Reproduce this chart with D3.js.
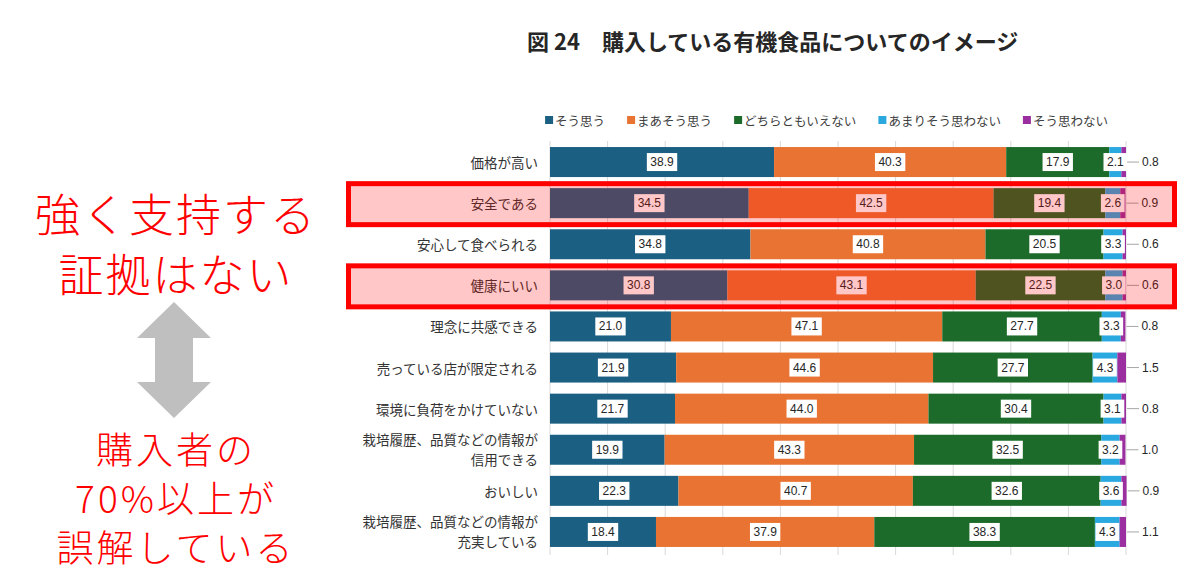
<!DOCTYPE html>
<html><head><meta charset="utf-8">
<script src="https://cdn.jsdelivr.net/npm/d3@7/dist/d3.min.js"></script>
<style>
html,body{margin:0;padding:0;background:#fff;}
svg{display:block;}
</style></head>
<body>
<svg id="chart" width="1200" height="583"></svg>
<script>
const title = "図 24　購入している有機食品についてのイメージ";
const categories = [
  "価格が高い",
  "安全である",
  "安心して食べられる",
  "健康にいい",
  "理念に共感できる",
  "売っている店が限定される",
  "環境に負荷をかけていない",
  "栽培履歴、品質などの情報が\n信用できる",
  "おいしい",
  "栽培履歴、品質などの情報が\n充実している"
];
const seriesNames = ["そう思う","まあそう思う","どちらともいえない","あまりそう思わない","そう思わない"];
const seriesColors = ["#1b5f82","#e97332","#1d6b2a","#2aa9e0","#9c2f9f"];
const soOmou      = [38.9,34.5,34.8,30.8,21.0,21.9,21.7,19.9,22.3,18.4];
const maaSoOmou   = [40.3,42.5,40.8,43.1,47.1,44.6,44.0,43.3,40.7,37.9];
const dochiramo   = [17.9,19.4,20.5,22.5,27.7,27.7,30.4,32.5,32.6,38.3];
const amariOmowanai = [2.1,2.6,3.3,3.0,3.3,4.3,3.1,3.2,3.6,4.3];
const soOmowanai  = [0.8,0.9,0.6,0.6,0.8,1.5,0.8,1.0,0.9,1.1];
const xTicks = [0,10,20,30,40,50,60,70,80,90,100];
const highlighted = ["安全である","健康にいい"];
const noteTop = ["強く支持する","証拠はない"];
const noteBottom = ["購入者の","70%以上が","誤解している"];

(function(){
const seriesValues = [soOmou, maaSoOmou, dochiramo, amariOmowanai, soOmowanai];
const rows = categories.map((c,i)=>{
  const vals = seriesValues.map(s=>s[i]);
  let acc = 0;
  const segs = vals.map((v,k)=>{const s={k,v,x0:acc,x1:acc+v}; acc+=v; return s;});
  return {cat:c, segs};
});

const svg = d3.select("#chart");
const JP = "'Noto Sans CJK JP','Noto Sans',sans-serif";
const NUM = "'Liberation Sans Narrow','Arial Narrow','Liberation Sans',sans-serif";

const x = d3.scaleLinear().domain([0,100]).range([550,1126]);
const y = d3.scaleBand().domain(categories).range([141.5,552.5]).paddingInner(0.27).paddingOuter(0.135);

// title
svg.append("text").attr("x",527).attr("y",40).attr("dominant-baseline","central")
  .attr("font-family",JP).attr("font-size",22).attr("font-weight","bold").attr("fill","#262626")
  .text(title);

// legend
const legend = svg.append("g").attr("font-family",JP).attr("font-size",12.5).attr("fill","#404040");
const items = seriesNames.map((n,i)=>{
  const g = legend.append("g");
  g.append("rect").attr("x",0).attr("y",-4).attr("width",8).attr("height",8).attr("fill",seriesColors[i]);
  const t = g.append("text").attr("x",10).attr("y",0).attr("dominant-baseline","central").text(n);
  return {g, w: 10 + t.node().getComputedTextLength()};
});
const gap = 22;
const totalW = d3.sum(items,d=>d.w) + gap*(items.length-1);
let lx = 826.5 - totalW/2;
items.forEach(it=>{ it.g.attr("transform",`translate(${lx},120)`); lx += it.w + gap; });

// gridlines
svg.append("g").selectAll("line").data(xTicks).join("line")
  .attr("x1",d=>x(d)).attr("x2",d=>x(d)).attr("y1",141).attr("y2",555)
  .attr("stroke","#d9d9d9").attr("stroke-width",1);

// bars
const rowG = svg.append("g").selectAll("g").data(rows).join("g")
  .attr("transform",d=>`translate(0,${y(d.cat)})`);
rowG.selectAll("rect").data(d=>d.segs).join("rect")
  .attr("x",d=>x(d.x0)).attr("width",d=>x(d.x1)-x(d.x0))
  .attr("y",0).attr("height",y.bandwidth())
  .attr("fill",d=>seriesColors[d.k]);

// value labels
const bh = y.bandwidth();
rowG.each(function(r){
  const g = d3.select(this);
  r.segs.forEach(s=>{
    if(s.k<4){
      const cx = x((s.x0+s.x1)/2);
      const lg = g.append("g");
      const t = lg.append("text").attr("x",cx).attr("y",bh/2).attr("text-anchor","middle")
        .attr("dominant-baseline","central").attr("font-family",NUM).attr("font-size",12)
        .attr("fill","#262626").text(s.v.toFixed(1));
      const w = t.node().getComputedTextLength()+7;
      lg.insert("rect","text").attr("x",cx-w/2).attr("y",bh/2-9).attr("width",w).attr("height",18).attr("fill","#fff");
    } else {
      const ex = x(s.x1);
      g.append("line").attr("x1",ex+1).attr("x2",ex+13).attr("y1",bh/2).attr("y2",bh/2)
        .attr("stroke","#a6a6a6").attr("stroke-width",1);
      g.append("text").attr("x",ex+16).attr("y",bh/2).attr("dominant-baseline","central")
        .attr("font-family",NUM).attr("font-size",12).attr("fill","#262626").text(s.v.toFixed(1));
    }
  });
});

// category labels
const catG = svg.append("g").attr("font-family",JP).attr("font-size",13.5).attr("fill","#333");
categories.forEach(c=>{
  const lines = c.split("\n");
  const cy = y(c)+bh/2;
  lines.forEach((ln,i)=>{
    catG.append("text").attr("x",538).attr("y",cy + (i-(lines.length-1)/2)*20 + (lines.length>1?-0.5:0))
      .attr("text-anchor","end").attr("dominant-baseline","central").text(ln);
  });
});

// highlight boxes
svg.append("g").selectAll("rect").data(highlighted).join("rect")
  .attr("x",348.5).attr("width",826).attr("y",d=>y(d)+bh/2-19.5).attr("height",41)
  .attr("fill","rgba(255,0,0,0.22)").attr("stroke","#ff0000").attr("stroke-width",5);

// left annotation
const note = svg.append("g").attr("font-family",JP).attr("font-weight",300).attr("fill","#ff0000").attr("text-anchor","middle");
noteTop.forEach((t,i)=>{
  note.append("text").attr("x",176).attr("y",212+i*60).attr("dominant-baseline","central")
    .attr("font-size",45).attr("letter-spacing",2).text(t);
});
noteBottom.forEach((t,i)=>{
  note.append("text").attr("x",176).attr("y",448+i*49).attr("dominant-baseline","central")
    .attr("font-size",37).attr("letter-spacing",3).text(t);
});

// double arrow
const ax = 174, aTop = 302, aBot = 418, hw = 37, sw = 19, hh = 36;
svg.append("path").attr("fill","#bfbfbf")
  .attr("d",`M${ax},${aTop} L${ax+hw},${aTop+hh} L${ax+sw},${aTop+hh} L${ax+sw},${aBot-hh} L${ax+hw},${aBot-hh} L${ax},${aBot} L${ax-hw},${aBot-hh} L${ax-sw},${aBot-hh} L${ax-sw},${aTop+hh} L${ax-hw},${aTop+hh} Z`);
})();
</script>
</body></html>
